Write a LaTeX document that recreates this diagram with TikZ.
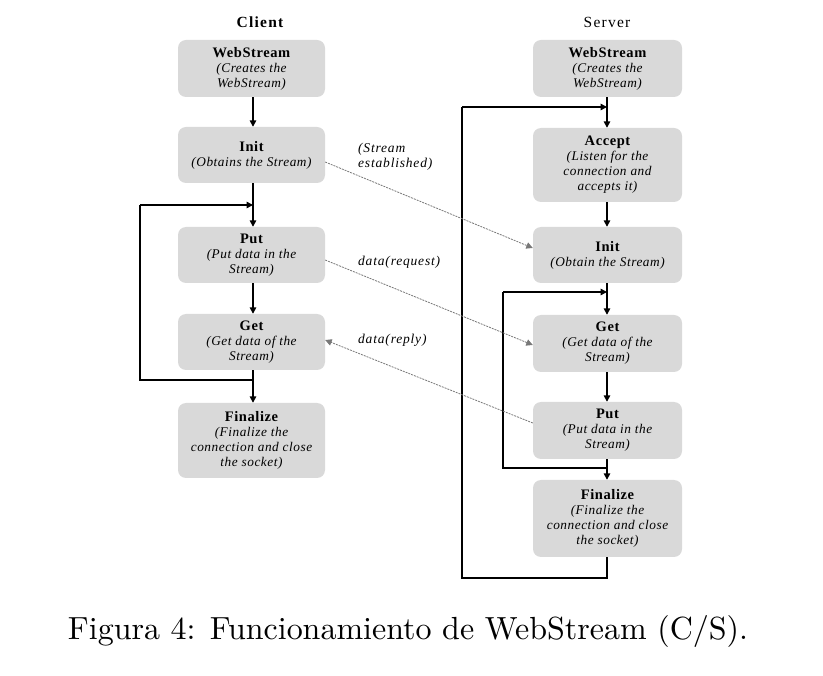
\documentclass[tikz,border=0pt]{standalone}
\usepackage{fontspec}
\usepackage{graphicx}
\newfontfamily\boxfont{Liberation Serif}[LetterSpace=4]
\newfontfamily\labfont{Liberation Serif}[LetterSpace=6]
\newfontfamily\headfont{Liberation Serif}[LetterSpace=8]
\usetikzlibrary{arrows.meta}
\definecolor{boxgray}{RGB}{217,217,217}
\definecolor{dotgray}{RGB}{120,120,120}
\tikzset{
  flowbox/.style={fill=boxgray, rounded corners=8pt, inner sep=2pt, align=center,
    font=\boxfont\fontsize{13.3}{15}\selectfont\itshape},
  cbox/.style={flowbox, minimum width=147pt},
  sbox/.style={flowbox, minimum width=149pt},
  flow/.style={line width=1.5pt, -{Triangle[length=6.5pt,width=6.5pt]}},
  flowline/.style={line width=1.5pt},
  msg/.style={dashed, dash pattern=on 2pt off 1pt, line width=0.8pt, -{Triangle[length=6.5pt,width=6.5pt]}, draw=dotgray},
  msglabel/.style={anchor=west, align=left, inner sep=0pt, font=\labfont\fontsize{13.5}{15}\selectfont\itshape},
  head/.style={font=\headfont\fontsize{15.5}{18}\selectfont}
}
\newcommand{\ttl}[1]{{\fontsize{14.5}{15}\selectfont\bfseries\upshape #1}}
\begin{document}
\begin{tikzpicture}[x=1pt,y=-1pt]
\useasboundingbox (0,0) rectangle (823,676);
% headings
\node[head, font=\headfont\fontsize{15.5}{18}\selectfont\bfseries] (hc) at (260,22) {Client};
\node[head] (hs) at (607,22) {Server};
% client boxes
\node[cbox, minimum height=57pt] (cws) at (251.5,68.5) {\ttl{WebStream}\\(Creates the\\WebStream)};
\node[cbox, minimum height=56pt] (cinit) at (251.5,155) {\ttl{Init}\\(Obtains the Stream)};
\node[cbox, minimum height=56pt] (cput) at (251.5,255) {\ttl{Put}\\(Put data in the\\Stream)};
\node[cbox, minimum height=56pt] (cget) at (251.5,342) {\ttl{Get}\\(Get data of the\\Stream)};
\node[cbox, minimum height=75pt] (cfin) at (251.5,440.5) {\ttl{Finalize}\\(Finalize the\\connection and close\\the socket)};
% server boxes
\node[sbox, minimum height=57pt] (sws) at (607.5,68.5) {\ttl{WebStream}\\(Creates the\\WebStream)};
\node[sbox, minimum height=74pt] (sacc) at (607.5,165) {\ttl{Accept}\\(Listen for the\\connection and\\accepts it)};
\node[sbox, minimum height=56pt] (sinit) at (607.5,255) {\ttl{Init}\\(Obtain the Stream)};
\node[sbox, minimum height=57pt] (sget) at (607.5,343.5) {\ttl{Get}\\(Get data of the\\Stream)};
\node[sbox, minimum height=57pt] (sput) at (607.5,430.5) {\ttl{Put}\\(Put data in the\\Stream)};
\node[sbox, minimum height=77pt] (sfin) at (607.5,518.5) {\ttl{Finalize}\\(Finalize the\\connection and close\\the socket)};
% loop coordinates
\coordinate (cjoin) at (253,380);
\coordinate (cl1) at (140,380);
\coordinate (cl2) at (140,205);
\coordinate (centry) at (253,205);
\coordinate (sjoin) at (607,468);
\coordinate (sl1) at (503,468);
\coordinate (sl2) at (503,292);
\coordinate (sentry) at (607,292);
\coordinate (sbot) at (607,578);
\coordinate (sb1) at (462,578);
\coordinate (sb2) at (462,107);
\coordinate (stop) at (607,107);
% client flow
\draw[flow] (cws.south -| centry) -- (cinit.north -| centry);
\draw[flow] (cinit.south -| centry) -- (cput.north -| centry);
\draw[flow] (cput.south -| centry) -- (cget.north -| centry);
\draw[flow] (cget.south -| centry) -- (cfin.north -| centry);
\draw[flowline] (cjoin) -- (cl1) -- (cl2);
\draw[flow] (cl2) -- (centry);
% server flow
\draw[flow] (sws.south -| stop) -- (sacc.north -| stop);
\draw[flow] (sacc.south -| stop) -- (sinit.north -| stop);
\draw[flow] (sinit.south -| stop) -- (sget.north -| stop);
\draw[flow] (sget.south -| stop) -- (sput.north -| stop);
\draw[flow] (sput.south -| stop) -- (sfin.north -| stop);
\draw[flowline] (sjoin) -- (sl1) -- (sl2);
\draw[flow] (sl2) -- (sentry);
\draw[flowline] (sfin.south -| stop) -- (sbot) -- (sb1) -- (sb2);
\draw[flow] (sb2) -- (stop);
% messages
\draw[msg] ([yshift=-7pt]cinit.east) -- ([yshift=7pt]sinit.west);
\draw[msg] ([yshift=-5pt]cput.east) -- ([yshift=-1.5pt]sget.west);
\draw[msg] ([yshift=7.5pt]sput.west) -- ([yshift=2pt]cget.east);
\node[msglabel] (l1) at (358,157) {(Stream\\established)};
\node[msglabel] (l2) at (358,262) {data(request)};
\node[msglabel] (l3) at (358,340) {data(reply)};
% caption
\node (cap) at (408,632) {\resizebox{680pt}{!}{Figura 4: Funcionamiento de WebStream (C/S).}};
\end{tikzpicture}
\end{document}
